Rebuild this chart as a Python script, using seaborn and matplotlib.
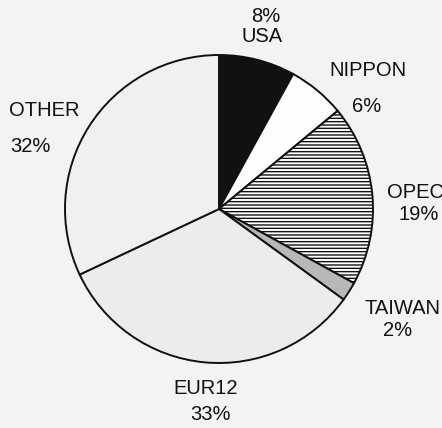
import matplotlib
matplotlib.use("Agg")
import matplotlib.pyplot as plt
import seaborn as sns

# Data
regions = ["USA", "NIPPON", "OPEC", "TAIWAN", "EUR12", "OTHER"]
shares = [8, 6, 19, 2, 33, 32]
pct_labels = ["8%", "6%", "19%", "2%", "33%", "32%"]

# Styling
fills = ["#111111", "#fdfdfd", "#ffffff", "#b8b8b8", "#ececec", "#f0f0f0"]
hatches = ["", "", "-----", "", "", ""]
bg = "#f3f3f3"

sns.set_theme(style="white")
plt.rcParams["font.family"] = ["Liberation Sans", "DejaVu Sans"]
plt.rcParams["hatch.linewidth"] = 1.0

fig = plt.figure(figsize=(4.42, 4.28), dpi=100, facecolor=bg)
ax = fig.add_axes([0, 0, 1, 1])
ax.set_facecolor(bg)

# pie centre / radius in pixels of the reference, used only for framing
cx, cy, r = 219, 209, 154
W, H = 442, 428

wedges, _ = ax.pie(
    shares,
    startangle=90,
    counterclock=False,
    colors=fills,
    radius=1,
    wedgeprops=dict(edgecolor="#111111", linewidth=1.4),
)
for w, h in zip(wedges, hatches):
    if h:
        w.set_hatch(h)

ax.set_xlim(-cx / r, (W - cx) / r)
ax.set_ylim(-(H - cy) / r, cy / r)
ax.set_aspect("auto")
ax.axis("off")

# label placement (pixel positions in the reference)
name_pos = {"USA": (262, 37), "NIPPON": (368, 71), "OPEC": (415, 192),
            "TAIWAN": (402, 308), "EUR12": (206, 388), "OTHER": (44, 111)}
pct_pos = {"USA": (266, 16), "NIPPON": (367, 106), "OPEC": (419, 215),
           "TAIWAN": (398, 330), "EUR12": (210, 415), "OTHER": (30, 147)}


def to_data(p):
    return (p[0] - cx) / r, (cy - p[1]) / r


for name, pct in zip(regions, pct_labels):
    x, y = to_data(name_pos[name])
    ax.text(x, y, name, ha="center", va="center", fontsize=14.5, color="#111111")
    x, y = to_data(pct_pos[name])
    ax.text(x, y, pct, ha="center", va="center", fontsize=14.5, color="#111111")

fig.savefig("out.png", dpi=100, facecolor=bg)
